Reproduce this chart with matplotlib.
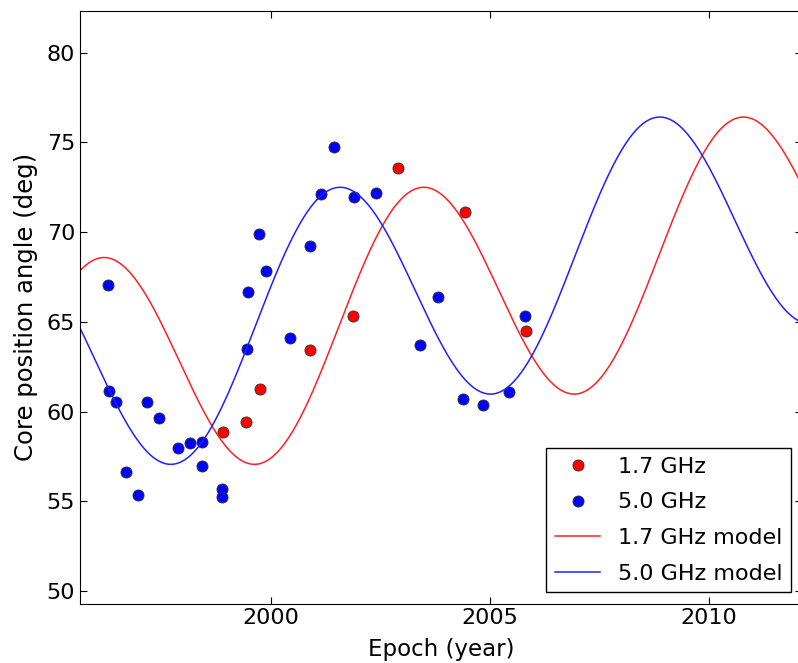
import numpy as np
import matplotlib
matplotlib.use("Agg")
import matplotlib.pyplot as plt

### Datos
# 1.7 GHz
epoca_17 = [1998.91, 1999.44, 1999.76, 2000.89, 2001.88, 2002.89, 2004.42, 2005.83]
angulo_17 = [58.84, 59.45, 61.27, 63.44, 65.32, 73.56, 71.12, 64.50]

# 5.0 GHz
epoca_50 = [1996.27, 1996.29, 1996.47, 1997.16, 1997.44, 1996.69, 1996.97,
            1997.88, 1998.16, 1998.42, 1998.42, 1998.89, 1998.89, 1999.46,
            1999.47, 1999.89, 1999.73, 2000.43, 2000.89, 2001.14, 2001.45,
            2001.89, 2002.39, 2003.41, 2003.82, 2004.39, 2004.84, 2005.44,
            2005.80]
angulo_50 = [67.07, 61.14, 60.51, 60.51, 59.65, 56.61, 55.38,
             57.95, 58.24, 58.30, 56.95, 55.70, 55.25, 63.48,
             66.68, 67.81, 69.91, 64.10, 69.24, 72.12, 74.76,
             71.94, 72.20, 63.71, 66.40, 60.68, 60.38, 61.07,
             65.34]

### Parametros del modelo (precesion + tendencia lineal), estimados de la figura
periodo = 7.30      # anos
amplitud = 6.71     # grados
media_0 = 65.76     # grados en t_pico
tendencia = 0.536   # grados / ano
t_pico = 2001.47    # fase del modelo 5.0 GHz
retraso_17 = 1.91   # retraso del modelo 1.7 GHz (anos)

def modelo(t, t0):
    return media_0 + tendencia * (t - t0) + amplitud * np.cos(2 * np.pi * (t - t0) / periodo)

plt.rcParams['font.family'] = ['DejaVu Sans']
fig = plt.figure(figsize=(7.98, 6.63), dpi=100)
# el eje derecho queda justo fuera de la figura
ax = fig.add_axes([0.1003, 0.0897, 0.905, 0.8937])

t = np.linspace(1995.5, 2012.3, 800)

ax.plot(epoca_17, angulo_17, 'o', color='#ff0000', mec='#333333', mew=0.6,
        ms=8, label='1.7 GHz')
ax.plot(epoca_50, angulo_50, 'o', color='#0000ff', mec='#333333', mew=0.6,
        ms=8, label='5.0 GHz')
ax.plot(t, modelo(t, t_pico + retraso_17), '-', color='#ff2020', lw=1.1,
        label='1.7 GHz model')
ax.plot(t, modelo(t, t_pico), '-', color='#2020ff', lw=1.1,
        label='5.0 GHz model')

ax.set_xlim(1995.64, 2012.13)
ax.set_ylim(49.31, 82.32)
ax.set_xticks([2000, 2005, 2010])
ax.set_yticks([50, 55, 60, 65, 70, 75, 80])
ax.tick_params(direction='in', top=True, right=True, length=5, labelsize=16)
ax.set_xlabel('Epoch (year)', fontsize=16.5, labelpad=7)
ax.set_ylabel('Core position angle (deg)', fontsize=17.5, labelpad=6)

leg = ax.legend(loc='lower right', numpoints=1, fontsize=16, fancybox=False,
                edgecolor='black', framealpha=1, borderaxespad=0.5,
                labelspacing=0.7)
leg.get_frame().set_linewidth(1.0)

fig.savefig('out.png', dpi=100)
